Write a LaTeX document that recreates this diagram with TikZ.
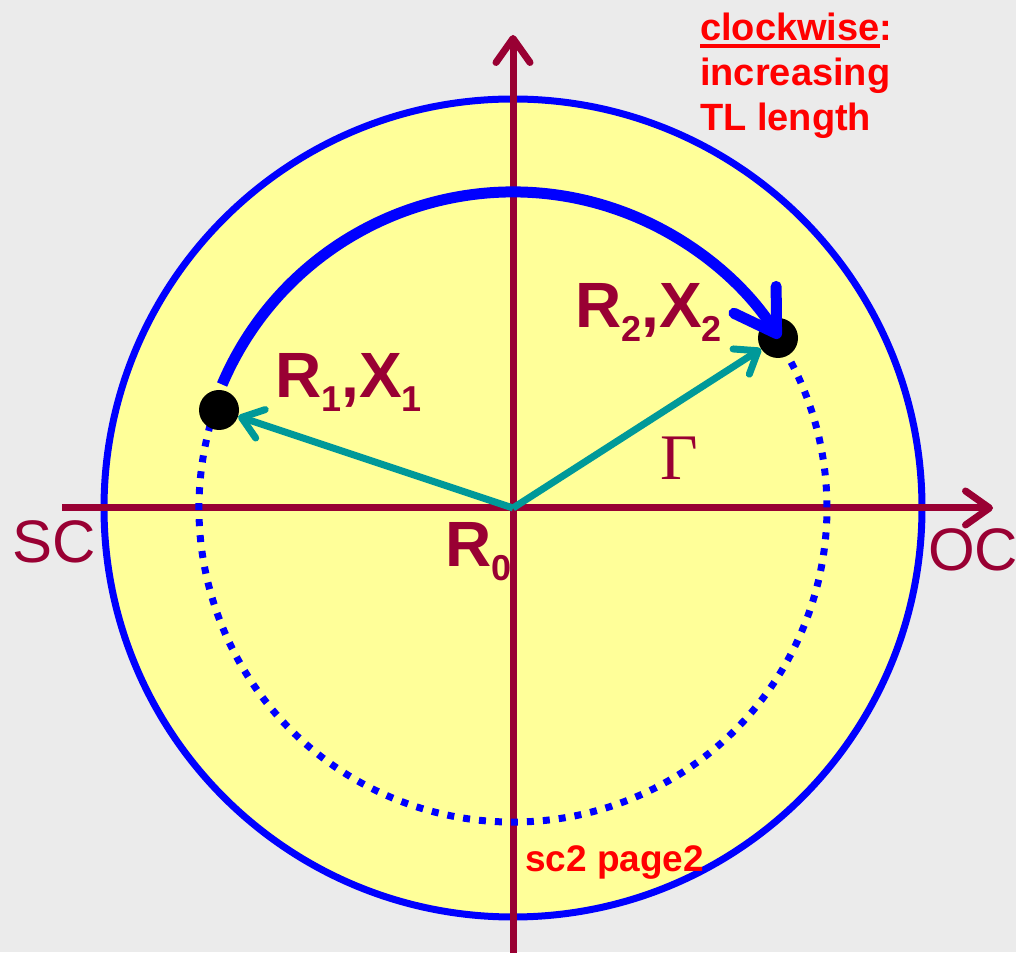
\documentclass[tikz,border=0pt]{standalone}
\usepackage{fontspec}
\setmainfont{Liberation Sans}
\newfontfamily\gammafont{Liberation Serif}
\usetikzlibrary{arrows.meta}
\definecolor{cbg}{HTML}{EBEBEB}
\definecolor{cyellow}{HTML}{FFFF99}
\definecolor{cblue}{HTML}{0000FF}
\definecolor{cwine}{HTML}{990033}
\definecolor{cteal}{HTML}{009999}
\definecolor{cred}{HTML}{FF0000}
\newcommand\lowidx[1]{\raisebox{-14pt}{\fontsize{36}{36}\selectfont #1}}
\newcommand\thickul[1]{\setbox0\hbox{#1}\rlap{\rule[-7.5pt]{\wd0}{4pt}}\box0}
\tikzset{
  every picture/.style={line join=round},
  axis/.style={draw=cwine, line width=7pt, -{Straight Barb[length=24pt, width=34pt, round]}},
  gammaarrow/.style={draw=cteal, line width=7pt, -{Straight Barb[length=20pt, width=30pt, round]}},
  sweep/.style={draw=cblue, line width=11pt, -{Straight Barb[length=40pt, width=50pt, round]}},
  dotring/.style={draw=cblue, line width=7pt, dash pattern=on 7pt off 9pt},
  dot/.style={circle, fill=black, minimum size=40pt, inner sep=0pt},
  lbl/.style={anchor=north west, inner sep=0pt, text=cwine, font=\bfseries\fontsize{64}{64}\selectfont},
  axlbl/.style={anchor=north west, inner sep=0pt, text=cwine, font=\fontsize{60}{60}\selectfont},
  note/.style={anchor=north west, inner sep=0pt, text=cred, align=left, font=\bfseries\fontsize{38}{45}\selectfont},
}
\begin{document}
\begin{tikzpicture}[x=1pt, y=1pt]
  \fill[cbg] (0,0) rectangle (1016,952);
  \useasboundingbox (0,0) rectangle (1016,952);
  \coordinate (R0) at (513,444);
  % chart disc and the two axes
  \draw[cblue, fill=cyellow, line width=7pt] (R0) circle[radius=409];
  \coordinate (west) at (62,444);
  \coordinate (east) at (993,444);
  \coordinate (south) at (513,-10);
  \coordinate (north) at (513,917);
  \draw[axis] (west) -- (east);
  \draw[axis] (south) -- (north);
  % constant-|Gamma| circle
  \draw[dotring] (R0) ++(161.6:314) arc[start angle=161.6, end angle=392.7, radius=314];
  \node[dot] (d1) at (219,542) {};
  \node[dot] (d2) at (778,614) {};
  \draw[sweep] (R0) ++(157:316) arc[start angle=157, end angle=32.5, radius=316];
  \draw[gammaarrow] (R0) -- (d1);
  \draw[gammaarrow] (R0) -- (d2);
  % labels
  \node[lbl] (p1) at (275,599) {R\lowidx{1},X\lowidx{1}};
  \node[lbl] (p2) at (575,669) {R\lowidx{2},X\lowidx{2}};
  \node[lbl] (p0) at (445,430) {R\lowidx{0}};
  \node[anchor=north west, inner sep=0pt, text=cwine, font=\gammafont\fontsize{65}{65}\selectfont] (gam) at (660,515) {Γ};
  \node[axlbl] (sc) at (12,432) {SC};
  \node[axlbl] (oc) at (928,424) {OC};
  \node[note] (cw) at (700,939) {\thickul{clockwise}:\\increasing\\TL length};
  \node[note, font=\bfseries\fontsize{37}{37}\selectfont] (src) at (525,107) {sc2 page2};
\end{tikzpicture}
\end{document}
